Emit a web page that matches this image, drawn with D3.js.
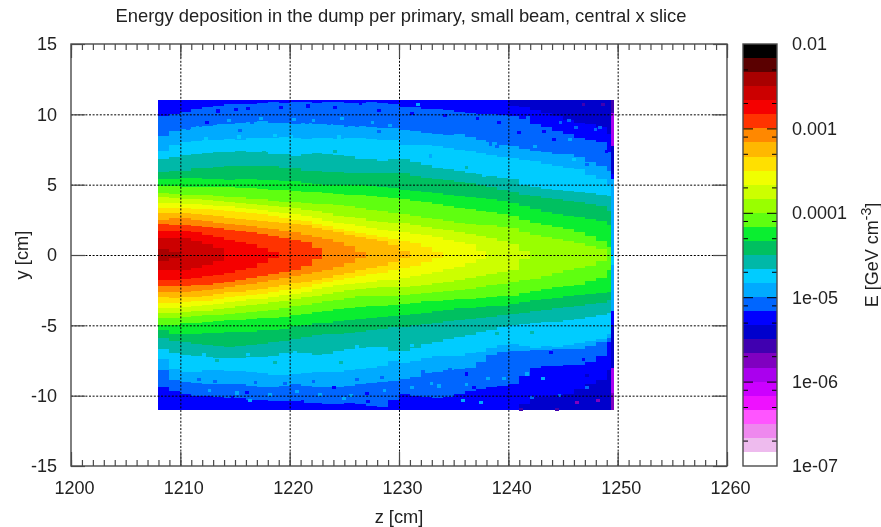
<!DOCTYPE html>
<html>
<head>
<meta charset="utf-8">
<script src="https://cdn.jsdelivr.net/npm/d3@7"></script>
<style>
html, body { margin: 0; padding: 0; background: #fff; }
svg { display: block; filter: blur(0.35px); }
text { font-family: "Liberation Sans", Arial, sans-serif; fill: #222; }
</style>
</head>
<body>
<div id="chart"></div>
<script>
// colour box, top (0.01) to bottom (1e-07), six bands per decade
var bandColors = ["#000000", "#5a0000", "#a80000", "#cc0000", "#f50000", "#ff3300", "#ff8800", "#ffb800",
	"#ffe000", "#f0ff00", "#ccff00", "#99ff00", "#5fff10", "#0aee30", "#00c060", "#00b8a8",
	"#00ccff", "#00aaff", "#0066ff", "#0000ff", "#0000cc", "#4000b0", "#8000c0", "#aa00ee",
	"#cc00ff", "#ee11ff", "#ff55ff", "#ee88ee", "#eebbee", "#ffffff"];
var colorMajor = [1e-2, 1e-3, 1e-4, 1e-5, 1e-6, 1e-7];
var colorLabels = ["0.01", "0.001", "0.0001", "1e-05", "1e-06", "1e-07"];
var colorMinor = [5e-3, 2e-3, 8e-4, 5e-4, 2e-4, 8e-5, 5e-5, 2e-5, 8e-6, 5e-6, 2e-6, 8e-7, 5e-7, 2e-7];

var xMajor = [1200, 1210, 1220, 1230, 1240, 1250, 1260];
var yMajor = [-15, -10, -5, 0, 5, 10, 15];

// heat map columns, z in cm, one per entry; each band below is read off as the y [cm]
// of its outer edge above and below the axis, column by column starting at z = 1208
var zBins = [1208, 1209, 1210, 1211, 1212, 1213, 1214, 1215, 1216, 1217, 1218, 1219, 1220, 1221,
	1222, 1223, 1224, 1225, 1226, 1227, 1228, 1229, 1230, 1231, 1232, 1233, 1234, 1235,
	1236, 1237, 1238, 1239, 1240, 1241, 1242, 1243, 1244, 1245, 1246, 1247, 1248, 1249];
var zEnd = 1249.35;
var yExtent = [-11, 11];

var up2 = [0.4, 0.2];
var lo2 = [-0.4, -0.2];
var up3 = [1.2, 1.2, 1.2, 1.0, 0.8, 0.5];
var lo3 = [-1.1, -1.1, -1.1, -0.9, -0.7, -0.4];
var up4 = [1.7, 1.7, 1.7, 1.6, 1.45, 1.3, 1.1, 0.9, 0.75, 0.5, 0.2];
var lo4 = [-1.8, -1.8, -1.7, -1.65, -1.5, -1.4, -1.25, -1.1, -0.9, -0.6, -0.2];
var up5 = [2.2, 2.15, 2.1, 2.05, 2.0, 1.9, 1.8, 1.7, 1.6, 1.5, 1.35, 1.2, 1.1, 0.9, 0.5];
var lo5 = [-2.2, -2.2, -2.2, -2.15, -2.1, -2.0, -1.9, -1.8, -1.65, -1.5, -1.35, -1.2, -1.05, -0.8, -0.3];
var up6 = [2.5, 2.6, 2.6, 2.5, 2.4, 2.3, 2.2, 2.1, 2.05, 1.95, 1.85, 1.7, 1.6, 1.45, 1.3, 1.15, 0.95, 0.65, 0.2];
var lo6 = [-2.6, -2.6, -2.6, -2.55, -2.5, -2.4, -2.25, -2.15, -2.05, -1.9, -1.8, -1.65, -1.5, -1.35, -1.2, -1.05, -0.85, -0.6, -0.2];
var up7 = [3.0, 3.0, 3.0, 2.9, 2.85, 2.75, 2.65, 2.55, 2.5, 2.4, 2.35, 2.3, 2.2, 2.1, 1.95, 1.8, 1.6, 1.45, 1.3, 1.15, 1.0, 0.7, 0.25];
var lo7 = [-3.0, -3.05, -3.0, -3.0, -2.9, -2.8, -2.65, -2.6, -2.5, -2.4, -2.3, -2.15, -2.0, -1.9, -1.75, -1.6, -1.45, -1.25, -1.1, -0.9, -0.75, -0.5, -0.2];
var up8 = [3.35, 3.35, 3.35, 3.3, 3.25, 3.2, 3.1, 3.05, 3.0, 2.9, 2.8, 2.65, 2.5, 2.4, 2.2, 2.05, 1.85, 1.7, 1.55, 1.4, 1.25, 1.15, 1.0, 0.85, 0.6, 0.2];
var lo8 = [-3.4, -3.4, -3.35, -3.3, -3.25, -3.15, -3.0, -2.95, -2.85, -2.75, -2.65, -2.5, -2.4, -2.25, -2.05, -1.95, -1.8, -1.65, -1.5, -1.35, -1.25, -1.1, -0.95, -0.75, -0.5, -0.2];
var up9 = [3.7, 3.7, 3.65, 3.6, 3.55, 3.5, 3.45, 3.35, 3.25, 3.2, 3.05, 3.0, 2.9, 2.75, 2.6, 2.45, 2.3, 2.2, 2.05, 1.9, 1.75, 1.7, 1.6, 1.5, 1.4, 1.25, 1.1, 0.95, 0.75, 0.3];
var lo9 = [-3.8, -3.75, -3.7, -3.6, -3.55, -3.45, -3.35, -3.25, -3.15, -3.1, -3.0, -2.85, -2.75, -2.6, -2.4, -2.25, -2.15, -2.05, -2.0, -1.9, -1.8, -1.75, -1.6, -1.5, -1.35, -1.2, -1.0, -0.85, -0.6, -0.25];
var up10 = [4.1, 4.05, 3.95, 3.95, 3.9, 3.85, 3.75, 3.7, 3.6, 3.55, 3.45, 3.4, 3.35, 3.2, 3.1, 3.0, 2.8, 2.7, 2.6, 2.45, 2.35, 2.3, 2.25, 2.1, 2.0, 1.85, 1.75, 1.6, 1.5, 1.35, 1.2, 1.0, 0.8, 0.3];
var lo10 = [-4.15, -4.1, -4.05, -4.0, -3.95, -3.85, -3.75, -3.65, -3.55, -3.45, -3.35, -3.25, -3.15, -3.0, -2.9, -2.75, -2.6, -2.5, -2.4, -2.35, -2.3, -2.3, -2.3, -2.2, -2.15, -2.0, -1.9, -1.75, -1.6, -1.5, -1.35, -1.2, -1.1, -0.3];
var up11 = [4.4, 4.35, 4.3, 4.3, 4.25, 4.2, 4.15, 4.1, 4.0, 3.95, 3.85, 3.8, 3.75, 3.7, 3.65, 3.6, 3.55, 3.45, 3.35, 3.2, 3.1, 3.0, 2.9, 2.75, 2.65, 2.55, 2.45, 2.3, 2.2, 2.15, 2.1, 2.0, 1.95, 1.65, 1.4, 1.3, 1.15, 1.0, 0.85, 0.65, 0.4];
var lo11 = [-4.5, -4.45, -4.4, -4.35, -4.3, -4.25, -4.2, -4.1, -4.05, -3.95, -3.9, -3.8, -3.65, -3.55, -3.4, -3.3, -3.2, -3.05, -2.95, -2.9, -2.9, -2.9, -2.85, -2.75, -2.7, -2.6, -2.55, -2.5, -2.4, -2.3, -2.15, -2.05, -1.95, -1.8, -1.7, -1.5, -1.3, -1.1, -0.95, -0.75, -0.45];
var up12 = [4.9, 4.9, 4.85, 4.85, 4.8, 4.8, 4.8, 4.75, 4.75, 4.7, 4.65, 4.6, 4.55, 4.5, 4.45, 4.4, 4.35, 4.3, 4.3, 4.2, 4.1, 4.05, 4.0, 3.85, 3.75, 3.6, 3.5, 3.35, 3.25, 3.15, 3.05, 2.95, 2.8, 2.5, 2.25, 2.1, 2.0, 1.85, 1.65, 1.35, 1.0, 0.6];
var lo12 = [-4.95, -4.95, -4.85, -4.8, -4.75, -4.7, -4.65, -4.6, -4.55, -4.5, -4.45, -4.4, -4.3, -4.2, -4.05, -3.95, -3.85, -3.8, -3.7, -3.65, -3.6, -3.55, -3.45, -3.4, -3.3, -3.25, -3.2, -3.15, -3.1, -3.05, -3.0, -2.95, -2.9, -2.7, -2.55, -2.4, -2.3, -2.2, -2.1, -1.85, -1.6, -1.1];
var up13 = [5.4, 5.4, 5.5, 5.45, 5.4, 5.4, 5.35, 5.4, 5.4, 5.35, 5.3, 5.25, 5.25, 5.1, 5.05, 5.0, 5.0, 5.0, 4.95, 4.9, 4.85, 4.75, 4.65, 4.55, 4.45, 4.4, 4.3, 4.2, 4.1, 4.05, 3.95, 3.85, 3.7, 3.45, 3.25, 3.05, 2.9, 2.8, 2.7, 2.55, 2.4, 2.1];
var lo13 = [-5.35, -5.6, -5.6, -5.6, -5.55, -5.55, -5.5, -5.5, -5.45, -5.35, -5.3, -5.25, -5.05, -5.0, -4.85, -4.8, -4.7, -4.6, -4.55, -4.5, -4.4, -4.35, -4.25, -4.2, -4.1, -4.0, -3.9, -3.8, -3.75, -3.7, -3.65, -3.6, -3.5, -3.35, -3.2, -3.1, -3.05, -2.95, -2.85, -2.8, -2.7, -2.6];
var up14 = [5.9, 6.0, 6.0, 6.2, 6.2, 6.25, 6.3, 6.35, 6.3, 6.35, 6.3, 6.2, 6.15, 6.0, 5.95, 5.9, 5.9, 5.85, 5.85, 5.85, 5.85, 5.85, 5.8, 5.65, 5.5, 5.4, 5.3, 5.2, 5.1, 4.95, 4.8, 4.6, 4.45, 4.3, 4.2, 4.05, 3.95, 3.85, 3.75, 3.6, 3.5, 3.1];
var lo14 = [-5.9, -6.1, -6.2, -6.3, -6.4, -6.5, -6.55, -6.5, -6.4, -6.3, -6.2, -6.1, -5.95, -5.8, -5.7, -5.65, -5.6, -5.55, -5.45, -5.3, -5.25, -5.15, -5.1, -5.0, -4.9, -4.8, -4.7, -4.6, -4.55, -4.5, -4.4, -4.3, -4.2, -4.1, -4.0, -3.9, -3.8, -3.7, -3.6, -3.5, -3.4, -3.2];
var up15 = [6.8, 7.0, 7.1, 7.2, 7.25, 7.3, 7.3, 7.4, 7.35, 7.3, 7.2, 7.2, 7.05, 7.2, 7.25, 7.2, 7.1, 7.05, 6.8, 6.8, 6.7, 6.8, 6.8, 6.6, 6.4, 6.2, 6.1, 6.0, 5.85, 5.75, 5.65, 5.5, 5.4, 5.0, 4.85, 4.7, 4.6, 4.55, 4.5, 4.4, 4.3, 4.2];
var lo15 = [-6.7, -7.0, -7.1, -7.2, -7.25, -7.3, -7.35, -7.3, -7.25, -7.25, -7.15, -7.0, -7.0, -7.0, -7.1, -7.05, -6.85, -6.7, -6.6, -6.55, -6.55, -6.8, -6.8, -6.6, -6.35, -6.15, -5.95, -5.8, -5.7, -5.5, -5.3, -5.1, -5.0, -4.9, -4.85, -4.75, -4.75, -4.65, -4.55, -4.4, -4.3, -4.1];
var up16 = [7.4, 7.8, 8.0, 8.1, 8.15, 8.2, 8.25, 8.2, 8.3, 8.3, 8.35, 8.4, 8.35, 8.25, 8.3, 8.3, 8.25, 8.3, 8.3, 8.25, 8.2, 8.2, 7.85, 7.85, 7.8, 7.75, 7.6, 7.45, 7.4, 7.25, 7.1, 7.0, 6.9, 6.75, 6.7, 6.45, 6.3, 6.2, 6.1, 5.7, 5.4, 5.0];
var lo16 = [-7.4, -8.1, -8.3, -8.35, -8.2, -8.2, -8.25, -8.25, -8.3, -8.4, -8.5, -8.55, -8.45, -8.4, -8.35, -8.35, -8.3, -8.2, -8.1, -8.0, -7.9, -7.5, -7.7, -7.5, -7.3, -7.2, -7.2, -7.15, -7.0, -6.9, -6.6, -6.4, -6.3, -6.5, -6.6, -6.5, -6.55, -6.4, -6.25, -6.1, -6.0, -5.6];
var up17 = [8.45, 8.8, 8.95, 9.1, 9.2, 9.3, 9.3, 9.4, 9.45, 9.5, 9.4, 9.35, 9.3, 9.35, 9.3, 9.3, 9.25, 9.2, 9.15, 9.1, 9.05, 9.0, 8.9, 8.8, 8.7, 8.6, 8.55, 8.6, 8.4, 8.2, 8.0, 7.85, 7.75, 7.55, 7.4, 7.35, 7.2, 7.15, 7.0, 6.6, 6.3, 6.0];
var lo17 = [-8.2, -8.9, -9.05, -9.1, -9.15, -9.2, -9.2, -9.2, -9.3, -9.35, -9.35, -9.3, -9.2, -9.3, -9.4, -9.4, -9.35, -9.3, -9.2, -9.1, -9.05, -8.95, -8.85, -8.7, -8.4, -8.3, -8.2, -8.1, -8.05, -7.6, -7.1, -6.9, -6.8, -6.8, -6.75, -6.75, -6.7, -6.7, -6.7, -6.5, -6.2, -5.9];
var up18 = [9.9, 10.0, 10.2, 10.4, 10.5, 10.6, 10.7, 10.7, 10.75, 10.8, 10.85, 10.8, 10.85, 10.9, 10.8, 10.85, 10.9, 10.8, 10.8, 10.85, 10.8, 10.7, 10.55, 10.5, 10.4, 10.35, 10.3, 10.2, 10.1, 10.0, 10.0, 9.95, 9.9, 9.7, 9.3, 9.1, 8.8, 8.6, 8.3, 8.2, 8.0, 7.3];
var lo18 = [-9.4, -9.7, -9.9, -10.0, -10.05, -10.1, -10.15, -10.2, -10.3, -10.3, -10.35, -10.4, -10.4, -10.5, -10.55, -10.6, -10.6, -10.55, -10.6, -10.7, -10.8, -10.3, -9.9, -10.0, -10.1, -10.2, -10.1, -9.9, -9.7, -9.5, -9.4, -9.3, -9.2, -8.6, -8.0, -7.9, -7.9, -7.85, -7.8, -7.6, -7.2, -6.2];
var up19 = [11, 11, 11, 11, 11, 11, 11, 11, 11, 11, 11, 11, 11, 11, 11, 11, 11, 11, 11, 11, 11, 11, 11, 11, 11, 11, 11, 11, 11, 11, 11, 11, 10.6, 10.5, 10.3, 10.1, 9.9, 9.6, 9.4, 9.3, 9.1, 8.6];
var lo19 = [-11, -11, -11, -11, -11, -11, -11, -11, -11, -11, -11, -11, -11, -11, -11, -11, -11, -11, -11, -11, -11, -11, -11, -11, -11, -11, -11, -11, -11, -11, -11, -11, -11, -10.6, -10.1, -10.1, -9.95, -9.9, -9.5, -9.2, -8.9, -8.2];

// the thin last slice at the dump's end: top y, bottom y, band
var endSlice = [[11, 10.1, 21], [10.1, 7.75, 23], [7.75, 5.75, 20], [5.75, 5.4, 19], [5.4, 0, 17], [0, -0.7, 16],
	[-0.7, -4, 17], [-4, -5, 19], [-5, -8, 20], [-8, -9.8, 23], [-9.8, -11, 22]];

// single noisy cells that stand out from their band: z, y, band
var specks = [[1240.8, 8.8, 19], [1243.1, 8.9, 19], [1245.35, 9.65, 18], [1245.5, 8.35, 17], [1244, 8.35, 19],
	[1247, 8.2, 18], [1247.6, 8.6, 19], [1248.2, 9.2, 18], [1238.2, 8, 18], [1238.8, 7.85, 18],
	[1242.3, 7.85, 17], [1245.8, 6.9, 16], [1247, 6.55, 18], [1247.3, 7.4, 18], [1248.8, 7.5, 19],
	[1246.7, 10.8, 21], [1248.5, 10.8, 21], [1233.3, 10.9, 19], [1236, 6.3, 15], [1237.6, 5.75, 16],
	[1232.7, 7.15, 17], [1231.6, 10.8, 17], [1237.9, -5.6, 16], [1238.8, -5.5, 15], [1242, -5.4, 15],
	[1246.7, -7.3, 19], [1243.7, -6.8, 19], [1244.9, -8.2, 19], [1243, -8.7, 17], [1241.5, -8.35, 17],
	[1248.2, -8.1, 19], [1247, -8.45, 20], [1236.7, -9.3, 19], [1239.4, -8.7, 17], [1236, -8.35, 19],
	[1232.8, -9.05, 17], [1237.3, -10.35, 17], [1235.7, -10.25, 17], [1246.1, -10.35, 22], [1248, -10.25, 22],
	[1244.3, -10.85, 21], [1241, -10.85, 21], [1211.5, -8.75, 18], [1213.2, -7.4, 15], [1218.5, -7.5, 15],
	[1224.5, -7.5, 15], [1215.9, -9.65, 19], [1223.9, -9.3, 19], [1226.9, -9.75, 19], [1216.2, -10.25, 17],
	[1224.8, -10.1, 17], [1214.6, -10, 19], [1212.3, 9.5, 19], [1215.3, 8.95, 18], [1211.4, 9.2, 17],
	[1213.3, 10.35, 19], [1214.9, 10.45, 19], [1217.5, 7.4, 15], [1224, 7.5, 15], [1226, 9.3, 18],
	[1228, 8.9, 18], [1226.3, 10.9, 19],
	[1213.5, 8.6, 17], [1216, 8.7, 17], [1219, 8.7, 17], [1221, 8.8, 17], [1223, 8.75, 17], [1225, 8.7, 17], [1227, 8.6, 17],
	[1212.2, 8.4, 16], [1215.2, 8.5, 16], [1218.5, 8.6, 16], [1220, 8.55, 16], [1224.3, 8.5, 16],
	[1210.5, 9.1, 18], [1213, 9.45, 18], [1216.4, 9.55, 18], [1218, 9.6, 18], [1221.4, 9.5, 18], [1223.4, 9.45, 18], [1225, 9.3, 18],
	[1214.3, 9.7, 17], [1217.2, 9.8, 17], [1220.2, 9.75, 17], [1222, 9.7, 17], [1224.6, 9.8, 17], [1227.4, 9.5, 17], [1229, 9.3, 17],
	[1216, 10.5, 19], [1219, 10.6, 19], [1221.5, 10.7, 19], [1224, 10.6, 19], [1228, 10.4, 19], [1231, 10.2, 19], [1234, 10, 19], [1237, 9.8, 19], [1239, 9.5, 19],
	[1212.5, -9.5, 17], [1215, -9.7, 17], [1218, -9.8, 17], [1220.5, -9.6, 17], [1222.6, -9.8, 17], [1225.4, -9.9, 17], [1228.5, -9.5, 17], [1231, -9.3, 17], [1233.5, -9.2, 17], [1236, -9.1, 17], [1238, -8.7, 17],
	[1213, -8.9, 18], [1216.7, -8.95, 18], [1219.4, -9, 18], [1222, -8.9, 18], [1226, -8.75, 18], [1228.3, -8.6, 18], [1232, -8.2, 18], [1234.5, -8, 18], [1237, -7.7, 18], [1240, -7.1, 18], [1242.5, -7.2, 18], [1245.5, -7, 18],
	[1213.4, -10.3, 19], [1217.5, -10.5, 19], [1221, -10.3, 19], [1223, -10.6, 19], [1227, -10.3, 19], [1230, -10.2, 19], [1233, -10.3, 19], [1236.4, -9.9, 19], [1239, -9.6, 19], [1241.4, -9.4, 19], [1243.4, -9, 19], [1245.2, -8.7, 19], [1246.4, -8.3, 19],
	[1242, -10, 18], [1244.5, -9.9, 18], [1247, -9.3, 18], [1244.6, 9.5, 18], [1246, 9.2, 18], [1247.8, 9, 18], [1241.6, 9.9, 18],
	[1212, -7, 16], [1216, -6.95, 16], [1220.3, -6.8, 16], [1226, -6.4, 16], [1231, -6.3, 16]];

// outermost first so the inner bands paint over it
var layers = [[19, up19, lo19], [18, up18, lo18], [17, up17, lo17], [16, up16, lo16], [15, up15, lo15], [14, up14, lo14],
	[13, up13, lo13], [12, up12, lo12], [11, up11, lo11], [10, up10, lo10], [9, up9, lo9], [8, up8, lo8],
	[7, up7, lo7], [6, up6, lo6], [5, up5, lo5], [4, up4, lo4], [3, up3, lo3], [2, up2, lo2]];

var width = 881, height = 527;
var svg = d3.select("#chart").append("svg").attr("width", width).attr("height", height);

var x = d3.scaleLinear().domain([1200, 1260]).range([71, 727]);
var y = d3.scaleLinear().domain([-15, 15]).range([466, 44]);
var c = d3.scaleLog().domain([1e-7, 1e-2]).range([466, 44]);
var frame = "#4a4a4a";

function columnEnd(z)
{
	return Math.min(z + 1, zEnd);
}

var heat = svg.append("g").attr("shape-rendering", "crispEdges");

// base band under everything
heat.selectAll("rect.base").data(zBins).enter().append("rect")
	.attr("class", "base")
	.attr("x", function(d) { return x(d); })
	.attr("width", function(d) { return x(columnEnd(d)) - x(d); })
	.attr("y", y(yExtent[1]))
	.attr("height", y(yExtent[0]) - y(yExtent[1]))
	.attr("fill", bandColors[20]);

layers.forEach(function(layer)
{
	var cols = d3.zip(layer[1], layer[2]);
	heat.append("g").attr("fill", bandColors[layer[0]])
		.selectAll("rect").data(cols).enter().append("rect")
		.attr("x", function(d, i) { return x(zBins[i]); })
		.attr("width", function(d, i) { return x(columnEnd(zBins[i])) - x(zBins[i]); })
		.attr("y", function(d) { return y(d[0]); })
		.attr("height", function(d) { return y(d[1]) - y(d[0]); });
});

heat.append("g").selectAll("rect").data(specks).enter().append("rect")
	.attr("x", function(d) { return x(d[0]); })
	.attr("width", x(1200.35) - x(1200))
	.attr("y", function(d) { return y(d[1]); })
	.attr("height", y(0) - y(0.22))
	.attr("fill", function(d) { return bandColors[d[2]]; });

heat.append("g").selectAll("rect").data(endSlice).enter().append("rect")
	.attr("x", x(zEnd))
	.attr("width", x(1249.65) - x(zEnd))
	.attr("y", function(d) { return y(d[0]); })
	.attr("height", function(d) { return y(d[1]) - y(d[0]); })
	.attr("fill", function(d) { return bandColors[d[2]]; });

// dotted grid, on top of the map
var grid = svg.append("g").attr("stroke", "#000").attr("stroke-width", 1).attr("stroke-dasharray", "2 1.6");
grid.selectAll("line.gx").data(xMajor.slice(1, -1)).enter().append("line")
	.attr("x1", function(d) { return x(d) + 0.5; })
	.attr("x2", function(d) { return x(d) + 0.5; })
	.attr("y1", y(-15))
	.attr("y2", y(15));
grid.selectAll("line.gy").data(yMajor.slice(1, -1)).enter().append("line")
	.attr("x1", x(1200))
	.attr("x2", x(1260))
	.attr("y1", function(d) { return y(d) + 0.5; })
	.attr("y2", function(d) { return y(d) + 0.5; });

function styleAxis(g)
{
	g.selectAll("path").remove();
	g.selectAll("line").attr("stroke", frame).attr("stroke-width", 1.2);
	g.selectAll("text").style("font-size", "18px").attr("fill", "#222");
}

var plainNumber = function(d) { return String(d); };

svg.append("g").attr("transform", "translate(0," + y(-15) + ")")
	.call(d3.axisBottom(x).tickValues(xMajor).tickSize(-14).tickPadding(15).tickFormat(plainNumber))
	.call(styleAxis)
	.selectAll("text").attr("dx", 3);
svg.append("g").attr("transform", "translate(0," + y(15) + ")")
	.call(d3.axisTop(x).tickValues(xMajor).tickSize(-14).tickFormat(""))
	.call(styleAxis);
svg.append("g").attr("transform", "translate(0," + y(-15) + ")")
	.call(d3.axisBottom(x).ticks(60).tickSize(-6).tickFormat(""))
	.call(styleAxis);
svg.append("g").attr("transform", "translate(0," + y(15) + ")")
	.call(d3.axisTop(x).ticks(60).tickSize(-6).tickFormat(""))
	.call(styleAxis);
svg.append("g").attr("transform", "translate(" + x(1200) + ",0)")
	.call(d3.axisLeft(y).tickValues(yMajor).tickSize(-14).tickPadding(14).tickFormat(plainNumber))
	.call(styleAxis);
svg.append("g").attr("transform", "translate(" + x(1260) + ",0)")
	.call(d3.axisRight(y).tickValues(yMajor).tickSize(-14).tickFormat(""))
	.call(styleAxis);

svg.append("rect")
	.attr("x", x(1200)).attr("y", y(15))
	.attr("width", x(1260) - x(1200)).attr("height", y(-15) - y(15))
	.attr("fill", "none").attr("stroke", frame).attr("stroke-width", 1.4);

// colour box
var boxLeft = 743, boxRight = 777;
var box = svg.append("g");
box.append("g").attr("shape-rendering", "crispEdges")
	.selectAll("rect").data(bandColors).enter().append("rect")
	.attr("x", boxLeft)
	.attr("width", boxRight - boxLeft)
	.attr("y", function(d, i) { return c(1e-2 * Math.pow(10, -i / 6)); })
	.attr("height", function(d, i) { return c(1e-2 * Math.pow(10, -(i + 1) / 6)) - c(1e-2 * Math.pow(10, -i / 6)); })
	.attr("fill", function(d) { return d; });

function boxTicks(values, len)
{
	[[boxLeft, len], [boxRight, -len]].forEach(function(side)
	{
		box.append("g").attr("stroke", "#000").attr("stroke-width", 1)
			.selectAll("line").data(values).enter().append("line")
			.attr("x1", side[0])
			.attr("x2", side[0] + side[1])
			.attr("y1", function(d) { return c(d) + 0.5; })
			.attr("y2", function(d) { return c(d) + 0.5; });
	});
}
boxTicks(colorMajor.slice(1, -1), 10);
boxTicks(colorMinor, 5);

box.append("rect")
	.attr("x", boxLeft).attr("y", c(1e-2))
	.attr("width", boxRight - boxLeft).attr("height", c(1e-7) - c(1e-2))
	.attr("fill", "none").attr("stroke", frame).attr("stroke-width", 1.4);

box.selectAll("text").data(colorMajor).enter().append("text")
	.attr("x", 792)
	.attr("y", function(d) { return c(d); })
	.attr("dy", "0.35em")
	.style("font-size", "18px")
	.text(function(d, i) { return colorLabels[i]; });

// titles
svg.append("text").attr("x", 401).attr("y", 22).attr("text-anchor", "middle")
	.style("font-size", "18.4px")
	.text("Energy deposition in the dump per primary, small beam, central x slice");
svg.append("text").attr("x", 399).attr("y", 523).attr("text-anchor", "middle")
	.style("font-size", "18.3px")
	.text("z [cm]");
svg.append("text").attr("transform", "translate(28,255) rotate(-90)").attr("text-anchor", "middle")
	.style("font-size", "18.3px")
	.text("y [cm]");

var eLabel = svg.append("text").attr("transform", "translate(878,255) rotate(-90)").attr("text-anchor", "middle")
	.style("font-size", "18px");
eLabel.append("tspan").text("E [GeV cm");
eLabel.append("tspan").attr("dy", "-7").style("font-size", "14px").text("-3");
eLabel.append("tspan").attr("dy", "7").text("]");
</script>
</body>
</html>
